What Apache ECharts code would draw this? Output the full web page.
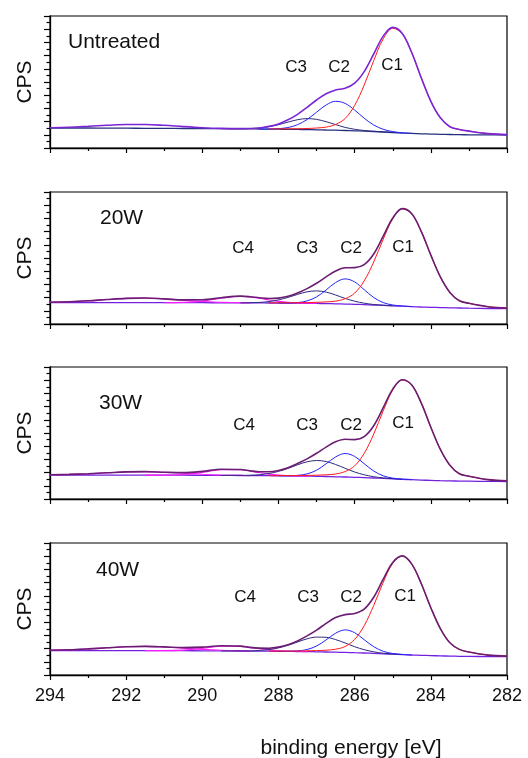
<!DOCTYPE html>
<html>
<head>
<meta charset="utf-8">
<script src="https://cdn.jsdelivr.net/npm/echarts@6/dist/echarts.min.js"></script>
<style>
html,body{margin:0;padding:0;background:#fff;}
#chart{width:528px;height:758px;}
</style>
</head>
<body>
<div id="chart"></div>
<script>
// Binding energy grid (eV)
const energy = [294,293.5,293,292.5,292,291.5,291,290.5,290,289.5,289,288.75,288.5,288.25,288,287.75,287.5,287.25,287,286.75,286.5,286.25,286,285.75,285.5,285.25,285,284.75,284.5,284.25,284,283.75,283.5,283.25,283,282.5,282];
const xTicks = [294,292,290,288,286,284,282];
const panelNames = ["Untreated","20W","30W","40W"];
const xTitle = "binding energy [eV]";
const yTitle = "CPS";
const N = null;

// Untreated: Shirley background (absolute) and fitted curves (net above background)
const untreatedBg  = [20,20,20,19.9,19.8,19.7,19.6,19.5,19.4,19.3,19.2,19.1,19.0,18.9,18.8,18.7,18.6,18.4,18.2,18.0,17.8,17.5,17.2,16.9,16.5,16.0,15.5,15.0,14.6,14.2,13.9,13.7,13.5,13.3,13.2,13.1,13.0];
const untreatedC1  = [N,N,N,N,N,N,N,N,N,N,N,N,N,0.1,0.3,0.5,0.7,1.1,1.8,2.9,5.7,12.0,25.4,46.0,70.8,93.1,104.2,99.3,80.6,55.8,32.8,16.5,7.8,5.2,3.7,1.3,0.4];
const untreatedC2  = [N,N,N,N,N,N,N,N,N,N,N,N,0,0.1,0.5,1.8,4.7,10.1,17.6,25.0,28.9,27.1,20.7,12.9,6.5,2.7,0.9,0.2,0,N,N,N,N,N,N,N,N];
const untreatedC3  = [N,N,N,N,N,N,N,N,N,0,0.1,0.4,1.0,2.4,4.5,7.2,9.7,11.0,10.4,8.3,5.6,3.1,1.5,0.6,0.2,0.1,0,N,N,N,N,N,N,N,N,N,N];
const untreatedEnv = [0.3,0.8,1.7,2.8,3.7,3.8,3.1,1.9,0.9,0.3,0.2,0.4,1.0,2.7,5.3,9.5,15.1,22.2,29.8,36.2,40.2,42.2,47.6,59.5,77.5,95.9,105.1,99.5,80.6,55.8,32.8,16.5,7.8,5.2,3.7,1.3,0.4];

// 20W
const w20Bg  = [21.5,21.5,21.5,21.4,21.4,21.4,21.3,21.3,21.3,21.2,21.2,21.1,21.1,21.0,21.0,20.9,20.8,20.7,20.6,20.4,20.2,19.9,19.7,19.4,19.0,18.6,18.2,17.8,17.4,17.0,16.7,16.4,16.2,16.0,15.8,15.5,15.3];
const w20C1  = [N,N,N,N,N,N,N,N,N,N,N,N,N,0.1,0.2,0.3,0.5,0.7,1.1,1.7,2.7,5.4,11.2,23.7,43.0,66.2,87.0,97.4,92.8,75.3,52.2,30.7,15.4,7.3,4.9,1.8,0.7];
const w20C2  = [N,N,N,N,N,N,N,N,N,N,N,N,N,N,0,0.1,0.6,2.4,6.5,13.6,21.3,25.2,22.4,14.9,7.5,2.8,0.8,0.2,0,N,N,N,N,N,N,N,N];
const w20C3  = [N,N,N,N,N,N,N,N,N,N,0,0.2,0.5,1.4,3.1,5.7,8.8,11.5,12.5,11.5,8.8,5.7,3.1,1.4,0.5,0.2,0,N,N,N,N,N,N,N,N,N,N];
const w20C4  = [N,N,N,N,N,N,0,0.3,1.6,4.6,6.5,6.0,4.6,3.0,1.6,0.7,0.3,0.1,0,N,N,N,N,N,N,N,N,N,N,N,N,N,N,N,N,N,N];
const w20Sat = [0.3,0.8,1.7,3.1,4.2,4.6,3.8,2.5,1.3,0.5,0.2,0,N,N,N,N,N,N,N,N,N,N,N,N,N,N,N,N,N,N,N,N,N,N,N,N,N];
const w20Env = [0.3,0.8,1.7,3.1,4.2,4.6,3.8,2.8,2.9,5.1,6.7,6.2,5.1,4.5,4.9,6.8,10.2,14.7,20.1,26.8,32.8,36.3,36.7,40.0,51.0,69.2,87.8,97.6,92.8,75.3,52.2,30.7,15.4,7.3,4.9,1.8,0.7];

// 30W
const w30Bg  = [24,24,24,23.9,23.9,23.9,23.8,23.8,23.7,23.6,23.5,23.4,23.4,23.3,23.2,23.1,23.0,22.9,22.7,22.5,22.2,22.0,21.7,21.4,21.0,20.6,20.2,19.7,19.3,18.9,18.6,18.3,18.1,17.9,17.8,17.6,17.5];
const w30C1  = [N,N,N,N,N,N,N,N,N,N,N,N,N,0.1,0.2,0.3,0.5,0.7,1.1,1.7,2.8,5.5,11.5,24.2,43.9,67.6,88.8,99.4,94.7,76.9,53.2,31.3,15.7,7.4,5.0,1.8,0.7];
const w30C2  = [N,N,N,N,N,N,N,N,N,N,N,N,N,N,0,0.1,0.6,2.2,6.1,12.7,19.9,23.5,20.9,13.9,7.0,2.6,0.7,0.2,0,N,N,N,N,N,N,N,N];
const w30C3  = [N,N,N,N,N,N,N,N,N,0,0.1,0.4,0.9,2.2,4.4,7.5,11.2,14.3,15.8,15.0,12.3,8.7,5.3,2.8,1.3,0.5,0.2,0,N,N,N,N,N,N,N,N,N];
const w30C4  = [N,N,N,N,N,0,0.1,0.7,2.9,5.8,5.8,4.5,2.9,1.6,0.7,0.3,0.1,0,N,N,N,N,N,N,N,N,N,N,N,N,N,N,N,N,N,N,N];
const w30Sat = [0.2,0.6,1.3,2.3,3.2,3.5,2.9,1.9,1.0,0.4,0.1,0,N,N,N,N,N,N,N,N,N,N,N,N,N,N,N,N,N,N,N,N,N,N,N,N,N];
const w30Env = [0.2,0.6,1.3,2.3,3.2,3.5,3.0,2.6,3.9,6.2,6.0,4.9,3.8,3.9,5.3,8.2,12.4,17.2,23.0,29.4,35.0,37.7,37.7,40.9,52.2,70.7,89.7,99.6,94.7,76.9,53.2,31.3,15.7,7.4,5.0,1.8,0.7];

// 40W
const w40Bg  = [24.5,24.5,24.5,24.4,24.4,24.4,24.3,24.3,24.2,24.1,24.0,23.9,23.9,23.8,23.7,23.6,23.5,23.4,23.2,23.0,22.8,22.6,22.3,22.0,21.6,21.2,20.8,20.4,20.0,19.7,19.4,19.1,18.9,18.7,18.6,18.4,18.3];
const w40C1  = [N,N,N,N,N,N,N,N,N,N,N,N,N,0.1,0.2,0.3,0.5,0.8,1.2,1.8,3.0,5.9,13.3,27.3,47.9,71.5,90.9,98.5,90.9,71.5,47.9,27.3,13.3,6.9,4.4,1.5,0.6];
const w40C2  = [N,N,N,N,N,N,N,N,N,N,N,N,N,N,0,0.1,0.5,2.1,5.8,12.1,19.0,22.5,20.0,13.3,6.7,2.5,0.7,0.2,0,N,N,N,N,N,N,N,N];
const w40C3  = [N,N,N,N,N,N,N,N,N,0,0.1,0.2,0.7,1.6,3.4,6.1,9.5,12.8,14.7,14.7,12.6,9.4,6.0,3.3,1.6,0.6,0.2,0,N,N,N,N,N,N,N,N,N];
const w40C4  = [N,N,N,N,N,0,0.1,0.6,2.3,4.6,4.6,3.5,2.3,1.3,0.6,0.2,0.1,0,N,N,N,N,N,N,N,N,N,N,N,N,N,N,N,N,N,N,N];
const w40Sat = [0.3,0.7,1.6,2.8,3.8,4.2,3.7,2.5,1.4,0.6,0.2,0,N,N,N,N,N,N,N,N,N,N,N,N,N,N,N,N,N,N,N,N,N,N,N,N,N];
const w40Env = [0.3,0.7,1.6,2.8,3.8,4.2,3.8,3.1,3.7,5.2,4.9,3.7,3.0,3.0,4.2,6.7,10.6,15.7,21.7,28.6,34.6,37.8,39.3,43.9,56.2,74.6,91.8,98.7,90.9,71.5,47.9,27.3,13.3,6.9,4.4,1.5,0.6];

const panels = [
  {bg: untreatedBg, comps: [untreatedC3, untreatedC2, untreatedC1], extra: [], env: untreatedEnv, labels: ["C3","C2","C1"]},
  {bg: w20Bg, comps: [w20C3, w20C2, w20C1], extra: [w20C4, w20Sat], env: w20Env, labels: ["C4","C3","C2","C1"]},
  {bg: w30Bg, comps: [w30C3, w30C2, w30C1], extra: [w30C4, w30Sat], env: w30Env, labels: ["C4","C3","C2","C1"]},
  {bg: w40Bg, comps: [w40C3, w40C2, w40C1], extra: [w40C4, w40Sat], env: w40Env, labels: ["C4","C3","C2","C1"]}
];

const FONT = "'Liberation Sans', Arial, Helvetica, sans-serif";
const tops = [16, 192, 367, 543];
const H = 132;
const compColors = ["#2b2b7e", "#2323ff", "#ff1a1a"];
const envColors = ["#7b26d6", "#6a1d72", "#6a1d72", "#6a1d72"];
const bgColors = ["#26307e", "#7420e0", "#7420e0", "#7420e0"];

function toPts(net, bg) {
  const out = [];
  for (let i = 0; i < energy.length; i++) {
    if (net[i] === null) continue;
    out.push([energy[i], +(bg[i] + net[i]).toFixed(2)]);
  }
  return out;
}

const grids = [], xAxes = [], yAxes = [], series = [];
panels.forEach((p, k) => {
  grids.push({left: 50, right: 21, top: tops[k], height: H, show: true, borderColor: '#000', borderWidth: 1.2, backgroundColor: 'transparent'});
  const last = k === panels.length - 1;
  xAxes.push({
    gridIndex: k, type: 'value', min: 282, max: 294, interval: 2, inverse: true,
    axisLine: {show: true, lineStyle: {color: '#000', width: 1.3}},
    axisTick: {show: true, inside: false, length: 5, lineStyle: {color: '#000', width: 1.2}},
    minorTick: {show: true, splitNumber: 2, length: 3, lineStyle: {color: '#000', width: 1.2}},
    splitLine: {show: false},
    axisLabel: {show: last, fontSize: 18, color: '#111', fontFamily: FONT, margin: 12,
      formatter: v => xTicks.indexOf(v) >= 0 ? String(v) : ''}
  });
  yAxes.push({
    gridIndex: k, type: 'value', min: 0, max: 132, interval: 13.2,
    axisLine: {show: true, lineStyle: {color: '#000', width: 1.3}},
    axisTick: {show: true, inside: false, length: 6, lineStyle: {color: '#000', width: 1.2}},
    minorTick: {show: true, splitNumber: 2, length: 3.5, lineStyle: {color: '#000', width: 1.2}},
    splitLine: {show: false},
    axisLabel: {show: false},
    name: yTitle, nameLocation: 'middle', nameGap: 14,
    nameTextStyle: {fontSize: 21, color: '#111', fontFamily: FONT}
  });
  const base = {type: 'line', xAxisIndex: k, yAxisIndex: k, symbol: 'none', smooth: 0.35, silent: true, animation: false};
  series.push(Object.assign({}, base, {name: 'bg' + k, data: toPts(p.bg.map(() => 0), p.bg), lineStyle: {color: bgColors[k], width: 1.3}, z: 2}));
  p.extra.forEach(arr => series.push(Object.assign({}, base, {data: toPts(arr, p.bg), lineStyle: {color: '#ff1cff', width: 1.1}, z: 3})));
  p.comps.forEach((arr, j) => series.push(Object.assign({}, base, {data: toPts(arr, p.bg), lineStyle: {color: compColors[j], width: 1}, z: 3})));
  series.push(Object.assign({}, base, {data: toPts(p.env, p.bg), lineStyle: {color: envColors[k], width: 1.6}, z: 4}));
});

// annotations (panel names, component labels, x title)
const graphic = [];
const nameX = [68, 100, 99, 96];
const nameY = [44, 220, 405, 572];
panelNames.forEach((t, k) => graphic.push({type: 'text', left: nameX[k], top: nameY[k] - 12,
  style: {text: t, font: '21px ' + FONT, fill: '#111'}}));
const labelPos = [
  {C3: [296, 67], C2: [339, 67], C1: [392, 65]},
  {C4: [243, 248], C3: [307, 248], C2: [351, 248], C1: [403, 247]},
  {C4: [244, 425], C3: [307, 425], C2: [351, 425], C1: [403, 423]},
  {C4: [245, 597], C3: [308, 597], C2: [351, 597], C1: [405, 596]}
];
panels.forEach((p, k) => p.labels.forEach(l => {
  const pos = labelPos[k][l];
  graphic.push({type: 'text', x: pos[0], y: pos[1],
    style: {text: l, font: '17px ' + FONT, fill: '#111', align: 'center', verticalAlign: 'middle'}});
}));
graphic.push({type: 'text', x: 351, y: 748,
  style: {text: xTitle, font: '21px ' + FONT, fill: '#111', align: 'center', verticalAlign: 'middle'}});

const chart = echarts.init(document.getElementById('chart'), null, {renderer: 'canvas'});
chart.setOption({
  animation: false,
  backgroundColor: '#fff',
  grid: grids, xAxis: xAxes, yAxis: yAxes, series: series, graphic: graphic
});
</script>
</body>
</html>
